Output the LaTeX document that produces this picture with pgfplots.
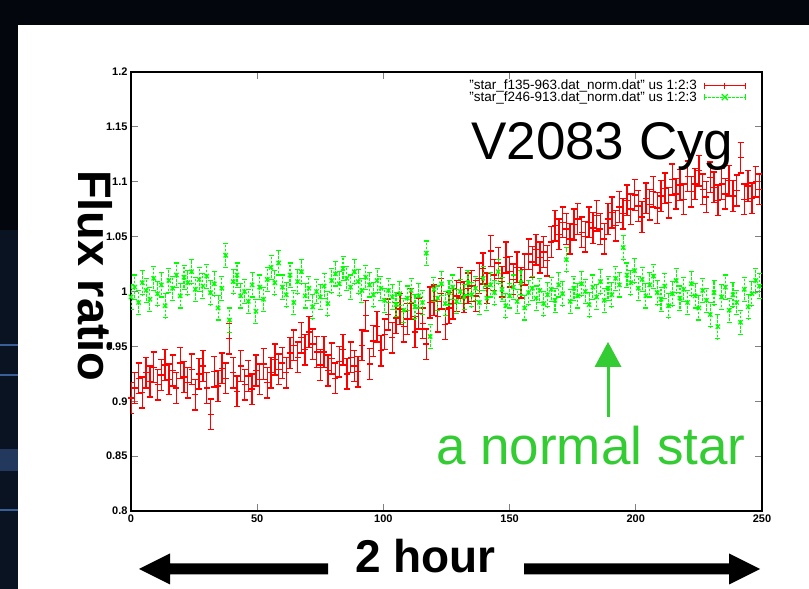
\documentclass[border=0pt]{standalone}
\usepackage{fontspec}
\setmainfont{Liberation Sans}
\usepackage{pgfplots}
\pgfplotsset{compat=1.18}
\definecolor{bg}{HTML}{03060C}
\definecolor{stripnavy}{HTML}{0A1322}
\definecolor{streak}{HTML}{3A5E98}
\definecolor{anngreen}{HTML}{33CC33}
\pgfplotsset{
  rederr/.style={/pgfplots/error bars/draw error bar/.code 2 args={\pgfscope\pgfsetstrokecolor{red!99}\pgfsetstrokecolor{red}\draw[draw=red,line width=1.4pt] ##1 -- ##2 ++(-3pt,0pt) -- ++(6pt,0pt);\endpgfscope}},
  greenerr/.style={/pgfplots/error bars/draw error bar/.code 2 args={\pgfscope\pgfsetstrokecolor{green!99}\pgfsetstrokecolor{green}\draw[draw=green,line width=1.1pt,dash pattern=on 2.5pt off 1.5pt] ##1 -- ##2; \draw[draw=green,line width=1.1pt] ##2 ++(-2.5pt,0pt) -- ++(5pt,0pt);\endpgfscope}},
}
\begin{document}
\begin{tikzpicture}
\useasboundingbox (0pt,0pt) rectangle (809pt,589pt);
\fill[bg] (0pt,0pt) rectangle (809pt,589pt);
\fill[stripnavy] (0pt,0pt) rectangle (18pt,359pt);
\fill[streak] (0pt,243pt) rectangle (18pt,245pt);
\fill[streak] (0pt,213pt) rectangle (18pt,215pt);
\fill[streak!50!stripnavy] (0pt,118pt) rectangle (18pt,140pt);
\fill[streak] (0pt,78pt) rectangle (18pt,80pt);
\fill[white] (18pt,0pt) rectangle (809pt,564pt);
\begin{axis}[
  at={(131pt,78pt)}, anchor=south west,
  scale only axis, width=631pt, height=439pt,
  xmin=0, xmax=250, ymin=0.8, ymax=1.2,
  xtick={0,50,100,150,200,250},
  xticklabels={0,50,100,150,200,250},
  ytick={0.8,0.85,0.9,0.95,1,1.05,1.1,1.15,1.2},
  yticklabels={0.8,0.85,0.9,0.95,1,1.05,1.1,1.15,1.2},
  tick align=inside, major tick length=7pt,
  tick style={line width=1.2pt},
  axis line style={line width=1.6pt},
  ticklabel style={font=\bfseries\fontsize{11}{13}\selectfont},
  /pgf/number format/assume math mode=true,
  minor tick num=0,
  legend plot pos=right, legend cell align=right,
  legend style={at={(1,1)}, anchor=north east, xshift=-16pt, yshift=-6pt,
    fill=none, font=\fontsize{13.5}{14}\selectfont,
    row sep=-4pt, column sep=5pt, inner sep=0pt, nodes={inner sep=2pt}},
  every axis legend/.append style={draw=none},
]
\addplot[only marks, mark=-, mark size=3pt, draw=red, fill=red, line width=1.4pt,
  legend image code/.code={
    \pgfsetstrokecolor{red!99}\pgfsetstrokecolor{red}
    \draw[draw=red,line width=1pt] (0pt,0pt) -- (41pt,0pt);
    \draw[draw=red,line width=1pt] (0pt,-3pt) -- (0pt,3pt) (20.5pt,-3pt) -- (20.5pt,3pt) (41pt,-3pt) -- (41pt,3pt);},
  rederr,
  error bars/.cd, y dir=both, y fixed=0.014]
table {
x y
0 0.903
1.5 0.912
3 0.921
4.5 0.908
6 0.926
7.5 0.918
9 0.931
10.5 0.915
12 0.924
13.5 0.933
15 0.920
16.5 0.928
18 0.912
19.5 0.935
21 0.922
22.5 0.917
24 0.929
25.5 0.906
27 0.925
28.5 0.932
30 0.912
31.5 0.888
33 0.927
34.5 0.914
36 0.930
37.5 0.921
39 0.957
40.5 0.926
42 0.909
43.5 0.932
45 0.915
46.5 0.923
48 0.911
49.5 0.928
51 0.920
52.5 0.934
54 0.917
55.5 0.926
57 0.938
58.5 0.929
60 0.935
61.5 0.926
63 0.944
64.5 0.951
66 0.940
67.5 0.958
69 0.947
70.5 0.963
72 0.952
73.5 0.945
75 0.933
76.5 0.945
78 0.928
79.5 0.939
81 0.921
82.5 0.936
84 0.947
85.5 0.925
87 0.940
88.5 0.932
90 0.927
91.5 0.951
93 0.978
94.5 0.934
96 0.955
97.5 0.968
99 0.946
100.5 0.961
102 0.979
103.5 0.958
105 0.976
106.5 0.984
108 0.968
109.5 0.975
111 0.989
112.5 0.963
114 0.980
115.5 0.971
117 0.952
118.5 0.990
120 0.992
121.5 0.977
123 0.998
124.5 0.970
126 0.985
127.5 0.989
129 0.996
130.5 1.008
132 0.995
133.5 1.003
135 1.005
136.5 0.996
138 1.012
139.5 1.021
141 1.003
142.5 1.037
144 1.015
145.5 1.026
147 1.009
148.5 1.031
150 1.018
151.5 1.011
153 1.022
154.5 1.008
156 1.020
157.5 1.034
159 1.027
160.5 1.038
162 1.031
163.5 1.036
165 1.028
166.5 1.045
168 1.060
169.5 1.052
171 1.063
172.5 1.057
174 1.048
175.5 1.061
177 1.066
178.5 1.054
180 1.050
181.5 1.063
183 1.058
184.5 1.069
186 1.057
187.5 1.048
189 1.066
190.5 1.072
192 1.060
193.5 1.077
195 1.071
196.5 1.083
198 1.075
199.5 1.088
201 1.078
202.5 1.068
204 1.085
205.5 1.079
207 1.091
208.5 1.076
210 1.087
211.5 1.094
213 1.081
214.5 1.102
216 1.089
217.5 1.097
219 1.084
220.5 1.105
222 1.091
223.5 1.098
225 1.110
226.5 1.093
228 1.086
229.5 1.104
231 1.095
232.5 1.083
234 1.098
235.5 1.089
237 1.101
238.5 1.087
240 1.092
241.5 1.122
243 1.084
244.5 1.096
246 1.085
247.5 1.100
249 1.093
};
\addlegendentry{"star\_f135-963.dat\_norm.dat" us 1:2:3}
\addplot[only marks, mark=x, mark size=3pt, draw=green, fill=green, line width=1.3pt,
  legend image code/.code={
    \pgfsetstrokecolor{green!99}\pgfsetstrokecolor{green}
    \draw[draw=green,line width=1pt,dash pattern=on 2.5pt off 1.5pt] (0pt,0pt) -- (41pt,0pt);
    \draw[draw=green,line width=1pt] (0pt,-3pt) -- (0pt,3pt) (41pt,-3pt) -- (41pt,3pt);
    \draw[draw=green,line width=1.2pt] (17.5pt,-3pt) -- (23.5pt,3pt) (17.5pt,3pt) -- (23.5pt,-3pt);},
  greenerr,
  error bars/.cd, y dir=both, y fixed=0.011]
table {
x y
0 0.995
1.5 1.004
3 0.990
4.5 1.008
6 1.001
7.5 0.993
9 1.012
10.5 0.998
12 1.006
13.5 0.987
15 1.010
16.5 1.003
18 1.015
19.5 0.996
21 1.013
22.5 1.008
24 1.018
25.5 1.002
27 1.011
28.5 1.005
30 1.014
31.5 0.999
33 1.007
34.5 0.985
36 1.003
37.5 1.033
39 0.974
40.5 1.009
42 1.015
43.5 0.996
45 1.000
46.5 0.991
48 1.006
49.5 0.982
51 1.004
52.5 0.993
54 1.011
55.5 1.022
57 1.008
58.5 1.026
60 1.004
61.5 0.997
63 1.015
64.5 0.990
66 1.009
67.5 1.018
69 0.996
70.5 1.003
72 0.986
73.5 1.000
75 0.995
76.5 1.005
78 0.989
79.5 1.010
81 1.016
82.5 1.007
84 1.021
85.5 1.012
87 1.004
88.5 1.018
90 1.009
91.5 1.001
93 1.013
94.5 1.006
96 0.997
97.5 1.010
99 1.003
100.5 0.992
102 1.001
103.5 0.995
105 0.988
106.5 0.998
108 0.983
109.5 0.994
111 1.001
112.5 0.986
114 0.996
115.5 0.990
117 1.035
118.5 0.959
120 1.002
121.5 0.994
123 1.007
124.5 0.989
126 0.999
127.5 1.004
129 0.991
130.5 1.000
132 0.995
133.5 1.008
135 0.997
136.5 1.003
138 0.990
139.5 1.012
141 0.994
142.5 1.006
144 0.999
145.5 1.018
147 1.002
148.5 0.987
150 0.996
151.5 1.004
153 0.991
154.5 1.008
156 0.985
157.5 0.999
159 1.003
160.5 0.994
162 1.001
163.5 0.989
165 0.997
166.5 1.002
168 0.992
169.5 1.006
171 0.998
172.5 1.029
174 0.991
175.5 1.003
177 0.996
178.5 1.007
180 1.000
181.5 0.988
183 1.004
184.5 0.995
186 1.009
187.5 0.992
189 1.003
190.5 0.997
192 1.012
193.5 1.006
195 1.040
196.5 1.015
198 1.008
199.5 1.019
201 1.003
202.5 1.011
204 0.996
205.5 1.006
207 1.014
208.5 0.999
210 0.993
211.5 1.005
213 0.987
214.5 0.998
216 1.010
217.5 0.994
219 1.002
220.5 0.990
222 1.007
223.5 0.996
225 0.985
226.5 1.001
228 0.992
229.5 0.979
231 0.999
232.5 0.968
234 0.995
235.5 1.004
237 0.983
238.5 0.997
240 0.990
241.5 0.972
243 1.002
244.5 0.986
246 0.998
247.5 1.010
249 1.005
};
\addlegendentry{"star\_f246-913.dat\_norm.dat" us 1:2:3}
\end{axis}
% white box covering part of the tick labels
\fill[white] (336pt,0pt) rectangle (524pt,66pt);
% bottom double arrow and label
\fill[black] (139pt,20pt) -- (170pt,35.5pt) -- (170pt,25.5pt) -- (328pt,25.5pt) -- (328pt,14.5pt) -- (170pt,14.5pt) -- (170pt,4.5pt) -- cycle;
\fill[black] (760pt,20pt) -- (729pt,35.5pt) -- (729pt,25.5pt) -- (524pt,25.5pt) -- (524pt,14.5pt) -- (729pt,14.5pt) -- (729pt,4.5pt) -- cycle;
\node[anchor=base, inner sep=0pt, font=\bfseries\fontsize{46}{46}\selectfont] at (425.5pt,16pt) {2 hour};
% y label
\node[rotate=-90, anchor=base west, inner sep=0pt, font=\bfseries\fontsize{47}{47}\selectfont] at (78pt,419pt) {Flux ratio};
% annotations
\node[anchor=base west, inner sep=0pt, font=\fontsize{53}{53}\selectfont] at (471pt,429pt) {V2083 Cyg};
\draw[anngreen, line width=3pt] (608pt,172pt) -- (608pt,223pt);
\fill[anngreen] (594.5pt,222pt) -- (621.5pt,222pt) -- (608pt,247pt) -- cycle;
\node[anchor=base west, inner sep=0pt, text=anngreen, font=\fontsize{53}{53}\selectfont] at (436pt,124pt) {a normal star};
\end{tikzpicture}
\end{document}
